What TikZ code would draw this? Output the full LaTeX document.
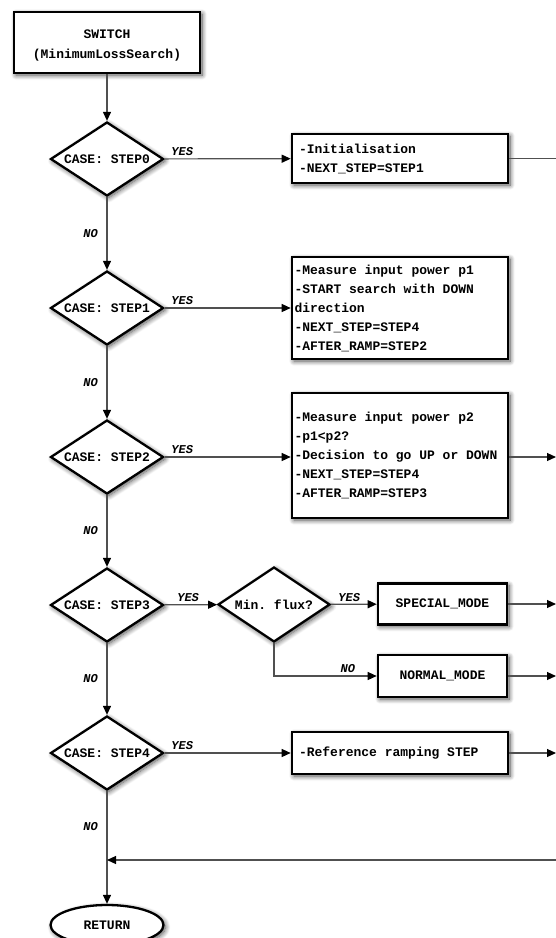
\documentclass[tikz,border=0pt]{standalone}
\usepackage{fontspec}
\setmainfont{Liberation Mono}
\usetikzlibrary{shapes.geometric,arrows.meta,shadows.blur}
\definecolor{conncol}{RGB}{80,80,80}
\begin{document}
\begin{tikzpicture}[x=1pt,y=-1pt,
  shad/.style={blur shadow={shadow xshift=2pt,shadow yshift=-2pt,shadow blur radius=5pt,shadow blur steps=10,shadow opacity=70}},
  txt/.style={font=\fontsize{13pt}{19pt}\selectfont\bfseries,execute at begin node={\spaceskip=0.6em\relax\xspaceskip=0.6em\relax}},
  box/.style={draw=black,line width=2.6pt,fill=white,shad,txt,inner sep=0pt},
  lbox/.style={box,align=left,inner xsep=7pt},
  cbox/.style={box,align=center},
  dia/.style={diamond,draw=black,line width=2.3pt,fill=white,shad,txt,minimum width=113pt,minimum height=74pt,inner sep=0pt,aspect=1.53},
  conn/.style={draw=conncol,line width=1.2pt},
  arr/.style={conn,-{Triangle[length=9pt,width=8pt,color=black]}},
  lab/.style={font=\fontsize{12pt}{14pt}\selectfont\bfseries\itshape,text=black,inner sep=2.5pt}
]
\useasboundingbox (0,0) rectangle (556,938);

% top box
\node[cbox,minimum width=186pt,minimum height=61pt] (sw) at (107,42.5) {};
\node[txt,align=center,inner sep=0pt] (swtext) at (107,45) {SWITCH\\[1pt](MinimumLossSearch)};

% decisions
\node[dia] (s0) at (107,159) {CASE: STEP0};
\node[dia] (s1) at (107,308) {CASE: STEP1};
\node[dia] (s2) at (107,457) {CASE: STEP2};
\node[dia] (s3) at (107,605) {CASE: STEP3};
\node[dia] (s4) at (107,753) {CASE: STEP4};
\node[dia,minimum width=112pt,minimum height=75pt] (mf) at (274,604.5) {Min. flux?};

% action boxes
\node[lbox,minimum width=216pt,minimum height=49pt,text width=202pt] (b0) at (400,158.5)
  {-Initialisation\\-NEXT\_STEP=STEP1};
\node[lbox,inner xsep=2.5pt,minimum width=216pt,minimum height=102pt,text width=211pt] (b1) at (400,308)
  {-Measure input power p1\\-START search with DOWN\\direction\\-NEXT\_STEP=STEP4\\-AFTER\_RAMP=STEP2};
\node[lbox,inner xsep=2.5pt,minimum width=216pt,minimum height=125pt,text width=211pt] (b2) at (400,455.5)
  {-Measure input power p2\\-p1<p2?\\-Decision to go UP or DOWN\\-NEXT\_STEP=STEP4\\-AFTER\_RAMP=STEP3};
\node[cbox,minimum width=129pt,minimum height=41pt] (sp) at (442.5,604) {SPECIAL\_MODE};
\node[cbox,minimum width=129pt,minimum height=42pt] (nm) at (442.5,676) {NORMAL\_MODE};
\node[lbox,minimum width=216pt,minimum height=42pt,text width=202pt] (b4) at (400,753)
  {-Reference ramping STEP};

% end
\node[ellipse,draw=black,line width=2.3pt,fill=white,shad,txt,minimum width=113pt,minimum height=40pt,inner sep=0pt] (ret) at (107,925) {RETURN};

% helper coordinates
\coordinate (edge) at (556,0);
\coordinate (rin) at (556,860);
\coordinate (rj) at (107,860);

% main chain
\draw[arr] (sw) -- (s0);
\draw[arr] (s0) -- node[lab,left=6pt] {NO} (s1);
\draw[arr] (s1) -- node[lab,left=6pt] {NO} (s2);
\draw[arr] (s2) -- node[lab,left=6pt] {NO} (s3);
\draw[arr] (s3) -- node[lab,left=6pt] {NO} (s4);
\draw[arr] (s4) -- node[lab,left=6pt,pos=0.31] {NO} (ret);

% yes branches
\draw[arr] (s0) -- node[lab,above,pos=0.14] {YES} (b0);
\draw[arr] (s1) -- node[lab,above,pos=0.14] {YES} (b1.west |- s1);
\draw[arr] (s2) -- node[lab,above,pos=0.14] {YES} (b2.west |- s2);
\draw[arr] (s3) -- node[lab,above,pos=0.45] {YES} (mf);
\draw[arr] (mf) -- node[lab,above,pos=0.4] {YES} (sp);
\draw[arr] (mf.south) |- node[lab,above,pos=0.86] {NO} (nm);
\draw[arr] (s4) -- node[lab,above,pos=0.14] {YES} (b4);

% outgoing to the right
\draw[conn] (b0) -- (b0 -| edge);
\draw[arr] (b2.east |- s2) -- (s2 -| edge);
\draw[arr] (sp) -- (sp -| edge);
\draw[arr] (nm) -- (nm -| edge);
\draw[arr] (b4) -- (b4 -| edge);

% return line
\draw[arr] (rin) -- (rj);
\end{tikzpicture}
\end{document}
